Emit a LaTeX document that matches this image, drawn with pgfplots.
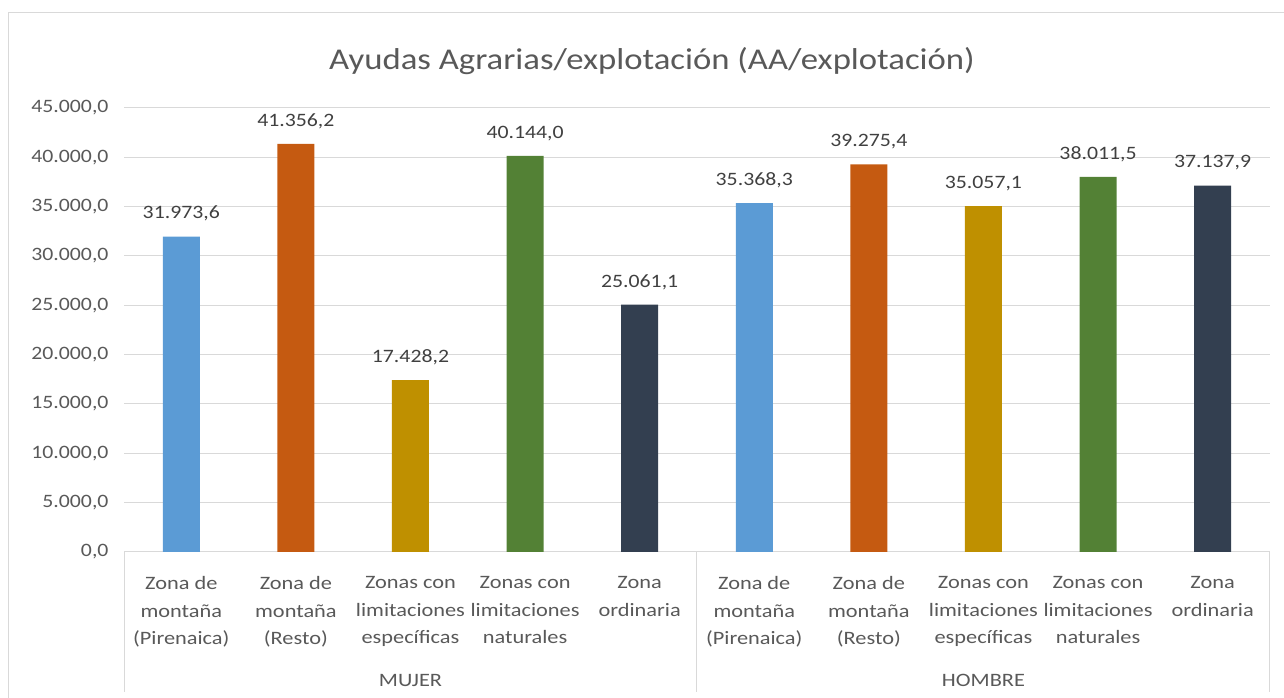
\documentclass[border=0pt]{standalone}
\usepackage{fontspec}
\setmainfont{Carlito}[FakeStretch=1.15]
\newfontfamily\catfont{Carlito}[FakeStretch=1.18]
\usepackage{pgfplots}
\pgfplotsset{compat=1.18}
\definecolor{cBlue}{HTML}{5B9BD5}
\definecolor{cOrange}{HTML}{C55A11}
\definecolor{cGold}{HTML}{BF9000}
\definecolor{cGreen}{HTML}{538135}
\definecolor{cNavy}{HTML}{333F50}
\definecolor{gridc}{HTML}{D9D9D9}
\definecolor{txt}{HTML}{595959}
\definecolor{lbl}{HTML}{404040}
\begin{document}
\begin{tikzpicture}[x=1bp,y=1bp]
\path[use as bounding box] (0,0) rectangle (1284,698);
\begin{scope}
\clip (0,0) rectangle (1284,698);
\draw[gridc, line width=1bp] (8,-30) rectangle (1320,685);
\end{scope}
\node[txt, font=\fontsize{30.3}{35}\selectfont] at (652,637) {Ayudas Agrarias/explotación (AA/explotación)};
\begin{axis}[
  at={(124bp,146bp)}, anchor=south west,
  width=1146bp, height=444bp, scale only axis,
  xmin=-0.5, xmax=9.5, ymin=0, ymax=45000,
  ybar, bar width=37bp, bar shift=0pt,
  clip=false,
  axis x line*=bottom, axis y line*=left,
  x axis line style={gridc, line width=1bp},
  y axis line style={draw=none},
  major tick length=0pt,
  ymajorgrids, grid style={gridc, line width=1bp},
  ytick={0,5000,...,45000},
  scaled y ticks=false,
  yticklabel style={font=\fontsize{19}{23}\selectfont, text=txt, xshift=-12bp,
    /pgf/number format/.cd, fixed, fixed zerofill, precision=1, use comma, 1000 sep={.}, assume math mode=true},
  xtick={0,...,9},
  xticklabels={{Zona de\\montaña\\(Pirenaica)},{Zona de\\montaña\\(Resto)},{Zonas con\\limitaciones\\específicas},{Zonas con\\limitaciones\\naturales},{Zona\\ordinaria},
               {Zona de\\montaña\\(Pirenaica)},{Zona de\\montaña\\(Resto)},{Zonas con\\limitaciones\\específicas},{Zonas con\\limitaciones\\naturales},{Zona\\ordinaria}},
  xticklabel style={font=\catfont\fontsize{19}{27.5}\selectfont, text=txt, align=center, anchor=north, yshift=-21bp},
  nodes near coords,
  every node near coord/.append style={font=\fontsize{19}{23}\selectfont, text=lbl, anchor=south, inner sep=0pt, yshift=15bp,
    /pgf/number format/.cd, fixed, fixed zerofill, precision=1, use comma, 1000 sep={.}, assume math mode=true},
]
\addplot[fill=cBlue, draw=none] coordinates {(0,31973.6) (5,35368.3)};
\addplot[fill=cOrange, draw=none] coordinates {(1,41356.2) (6,39275.4)};
\addplot[fill=cGold, draw=none] coordinates {(2,17428.2) (7,35057.1)};
\addplot[fill=cGreen, draw=none] coordinates {(3,40144.0) (8,38011.5)};
\addplot[fill=cNavy, draw=none] coordinates {(4,25061.1) (9,37137.9)};
\draw[gridc, line width=1bp] (axis cs:-0.5,0) -- ++(0pt,-140bp);
\draw[gridc, line width=1bp] (axis cs:4.5,0) -- ++(0pt,-140bp);
\draw[gridc, line width=1bp] (axis cs:9.5,0) -- ++(0pt,-140bp);
\node[txt, font=\catfont\fontsize{19}{23}\selectfont] at ([yshift=-128bp]axis cs:2,0) {MUJER};
\node[txt, font=\catfont\fontsize{19}{23}\selectfont] at ([yshift=-128bp]axis cs:7,0) {HOMBRE};
\end{axis}
\end{tikzpicture}
\end{document}
